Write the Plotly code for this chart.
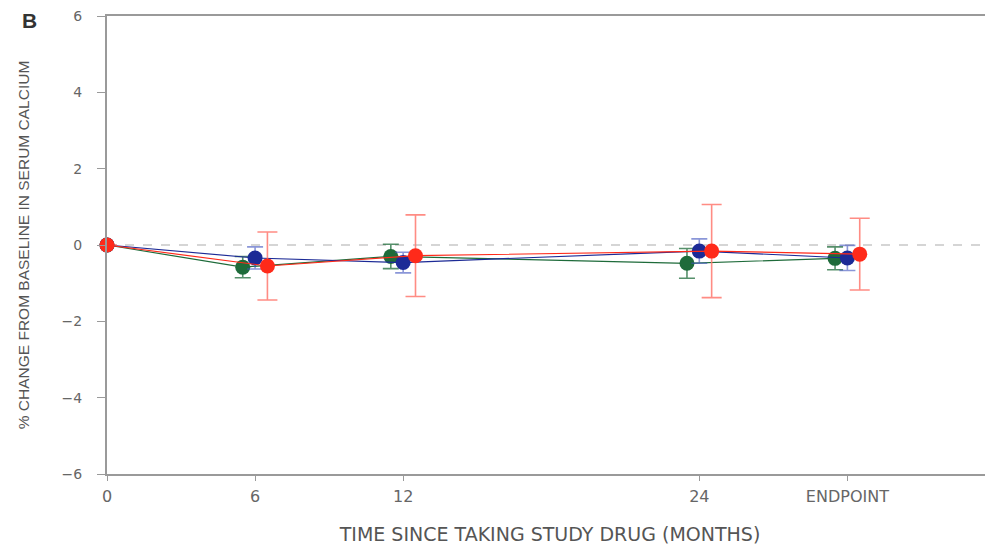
import plotly.graph_objects as go

months = [0, 6, 12, 24, 30]
tick_labels = ["0", "6", "12", "24", "ENDPOINT"]

green_vals = [0.0, -0.58, -0.30, -0.48, -0.35]
green_err = [0.0, 0.28, 0.32, 0.39, 0.30]
blue_vals = [0.0, -0.34, -0.46, -0.16, -0.34]
blue_err = [0.0, 0.29, 0.27, 0.32, 0.33]
red_vals = [0.0, -0.55, -0.28, -0.16, -0.24]
red_err = [0.0, 0.89, 1.07, 1.22, 0.94]

y_ticks = [-6, -4, -2, 0, 2, 4, 6]

def shifted(xs, d):
    return [x + (d if x != 0 else 0) for x in xs]

fig = go.Figure()

series = [
    (green_vals, green_err, -0.5, "#1e6b3a", "rgba(30,107,58,0.75)", 8),
    (blue_vals, blue_err, 0.0, "#1c2a96", "rgba(60,80,190,0.6)", 8),
    (red_vals, red_err, 0.5, "#ff2a1a", "rgba(255,120,110,0.85)", 10),
]
for vals, err, d, col, ecol, w in series:
    fig.add_trace(go.Scatter(
        x=shifted(months, d), y=vals,
        mode="lines+markers",
        line=dict(color=col, width=1.2),
        marker=dict(color=col, size=15),
        error_y=dict(type="data", array=err, visible=True,
                     color=ecol, thickness=1.6, width=w),
        cliponaxis=False, showlegend=False,
    ))

fig.add_shape(type="line", xref="paper", yref="y", x0=0, x1=1, y0=0, y1=0,
              line=dict(color="#c8c8c8", width=1.3, dash="dash"), layer="below")

fig.add_annotation(text="<b>B</b>", xref="paper", yref="paper",
                   x=-0.087, y=1.0175, xanchor="center", yanchor="top",
                   showarrow=False, borderpad=0,
                   font=dict(family="Liberation Sans", size=21, color="#333"))

tick_font = dict(family="DejaVu Sans", size=14, color="#666")
fig.update_layout(
    width=985, height=538,
    margin=dict(l=99, r=0, t=8, b=72),
    plot_bgcolor="white", paper_bgcolor="white",
    font=dict(family="DejaVu Sans"),
    xaxis=dict(range=[0, 35.9], tickvals=months, ticktext=tick_labels,
               showgrid=False, zeroline=False, showline=True, mirror=True,
               linecolor="#9a9a9a", linewidth=2, ticks="outside", ticklen=5,
               tickcolor="#9a9a9a", tickfont=dict(family="DejaVu Sans", size=16, color="#666"),
               ticklabelstandoff=2, ticklabeloverflow="allow",
               title=dict(text="TIME SINCE TAKING STUDY DRUG (MONTHS)",
                          font=dict(family="DejaVu Sans", size=19, color="#555"),
                          standoff=22)),
    yaxis=dict(range=[-6, 6], tickvals=y_ticks, showgrid=False, zeroline=False,
               showline=True, mirror=False, linecolor="#9a9a9a", linewidth=2,
               ticks="outside", ticklen=8, tickcolor="#9a9a9a",
               tickfont=tick_font, ticklabelstandoff=12,
               ticklabeloverflow="allow",
               title=dict(text="% CHANGE FROM BASELINE IN SERUM CALCIUM",
                          font=dict(family="Liberation Sans", size=15.5, color="#555"),
                          standoff=28)),
)

fig.write_html("out.html")
